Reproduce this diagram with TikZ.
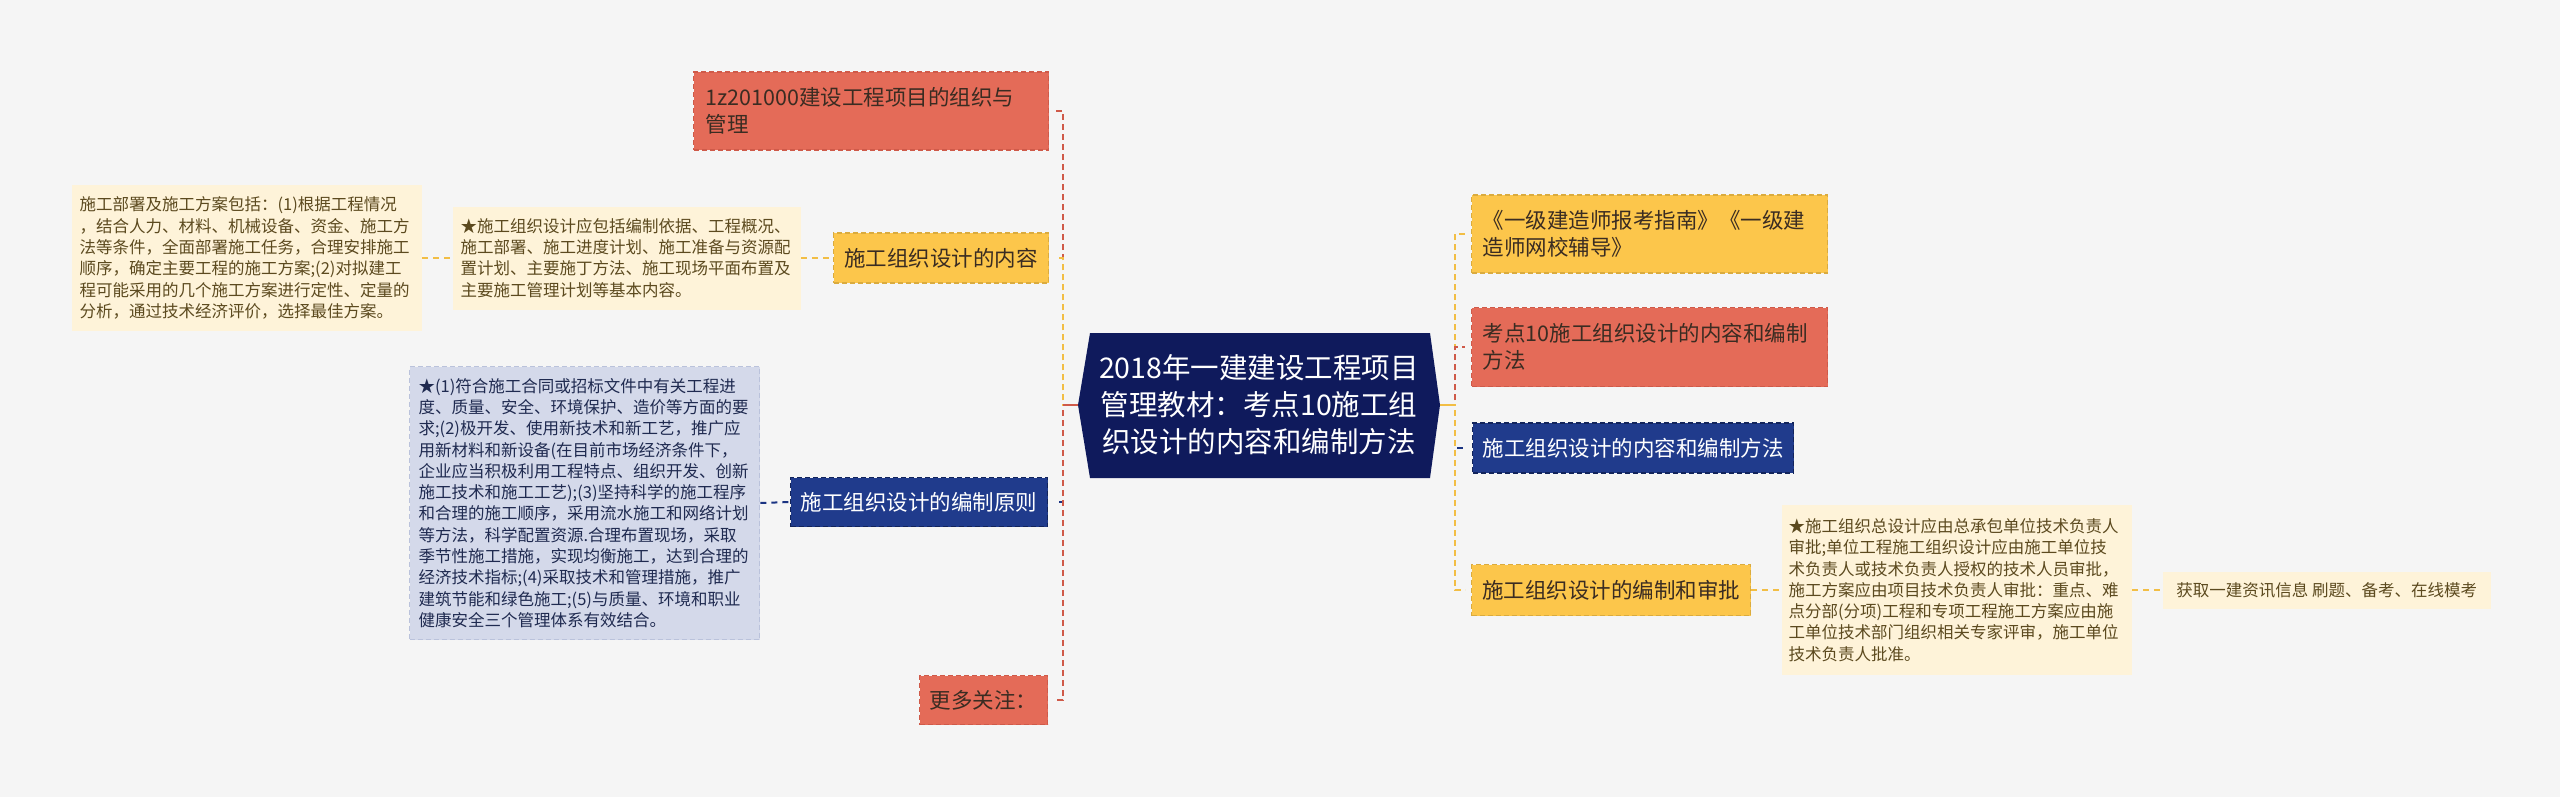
\documentclass[tikz,border=0pt]{standalone}
\usepackage{fontspec}
\setmainfont{Noto Sans CJK SC}
\definecolor{bg}{HTML}{F5F5F5}
\definecolor{redfill}{HTML}{E46B58}
\definecolor{redline}{HTML}{CF5A49}
\definecolor{yelfill}{HTML}{FCC64B}
\definecolor{yelline}{HTML}{F2BE45}
\definecolor{navyfill}{HTML}{203B8C}
\definecolor{navyline}{HTML}{1A3382}
\definecolor{centerfill}{HTML}{0F1A5C}
\definecolor{creamfill}{HTML}{FEF3D9}
\definecolor{lavfill}{HTML}{D4D9EA}
\definecolor{lavline}{HTML}{BAC2DB}
\definecolor{darktext}{HTML}{3A2C22}
\definecolor{creamtext}{HTML}{5C4A1F}
\definecolor{lavtext}{HTML}{1F2A50}
\tikzset{
  box/.style={anchor=west, inner ysep=0pt, line width=1.3pt, dash pattern=on 5pt off 3pt},
  medfont/.style={font=\fontsize{21.5pt}{27.5pt}\selectfont},
  smallfont/.style={font=\fontsize{16.5pt}{21.3pt}\selectfont},
  redbox/.style={box, medfont, fill=redfill, draw=redline, text=darktext},
  yelbox/.style={box, medfont, fill=yelfill, draw=yelline!90!black, text=darktext},
  navybox/.style={box, medfont, fill=navyfill, draw=navyline!70!black, text=white},
  creambox/.style={box, smallfont, fill=creamfill, text=creamtext},
  lavbox/.style={box, smallfont, fill=lavfill, draw=lavline, text=lavtext},
  oneline/.style={align=center, inner xsep=0pt},
  conn/.style={line width=2.2pt, dash pattern=on 6pt off 4pt},
  leaf/.style={line width=2pt, dash pattern=on 6pt off 5pt}
}
\begin{document}
\begin{tikzpicture}[x=1pt,y=-1pt]
\fill[bg] (0,0) rectangle (2560,797);
\useasboundingbox (0,0) rectangle (2560,797);

% central topic
\fill[centerfill] (1078,405) -- (1090,333) -- (1430,333) -- (1440,405) -- (1430,478) -- (1090,478) -- cycle;
\coordinate (cl) at (1078,405);
\coordinate (cr) at (1440,405);
\node[text=white, align=center, font=\fontsize{28.5pt}{37pt}\selectfont] (c) at (1259,405)
  {2018年一建建设工程项目\\管理教材：考点10施工组\\织设计的内容和编制方法};

% left branches
\node[redbox, text width=331pt, inner xsep=12pt, minimum height=78pt, align=left] (r1) at (693,111)
  {1z201000建设工程项目的组织与\\管理};
\node[yelbox, oneline, minimum width=215pt, minimum height=50pt] (y1) at (833,258) {施工组织设计的内容};
\node[creambox, text width=332pt, inner xsep=8pt, minimum height=103pt, align=left] (a2) at (452,258)
  {★施工组织设计应包括编制依据、工程概况、\\施工部署、施工进度计划、施工准备与资源配\\置计划、主要施丁方法、施工现场平面布置及\\主要施工管理计划等基本内容。};
\node[creambox, text width=334pt, inner xsep=8pt, minimum height=146pt, align=left] (a1) at (71,258)
  {施工部署及施工方案包括：(1)根据工程情况\\，结合人力、材料、机械设备、资金、施工方\\法等条件，全面部署施工任务，合理安排施工\\顺序，确定主要工程的施工方案;(2)对拟建工\\程可能采用的几个施工方案进行定性、定量的\\分析，通过技术经济评价，选择最佳方案。};
\node[navybox, oneline, minimum width=257pt, minimum height=49pt] (b1) at (790,502) {施工组织设计的编制原则};
\node[lavbox, text width=332pt, inner xsep=9pt, minimum height=273pt, align=left] (a3) at (409,503)
  {★(1)符合施工合同或招标文件中有关工程进\\度、质量、安全、环境保护、造价等方面的要\\求;(2)极开发、使用新技术和新工艺，推广应\\用新材料和新设备(在目前市场经济条件下，\\企业应当积极利用工程特点、组织开发、创新\\施工技术和施工工艺);(3)坚持科学的施工程序\\和合理的施工顺序，采用流水施工和网络计划\\等方法，科学配置资源.合理布置现场，采取\\季节性施工措施，实现均衡施工，达到合理的\\经济技术指标;(4)采取技术和管理措施，推广\\建筑节能和绿色施工;(5)与质量、环境和职业\\健康安全三个管理体系有效结合。};
\node[redbox, oneline, minimum width=128pt, minimum height=49pt] (r2) at (919,700) {更多关注：};

% right branches
\node[yelbox, text width=334pt, inner xsep=11pt, minimum height=78pt, align=left] (y2) at (1471,234)
  {《一级建造师报考指南》《一级建\\造师网校辅导》};
\node[redbox, text width=334pt, inner xsep=11pt, minimum height=79pt, align=left] (r3) at (1471,347)
  {考点10施工组织设计的内容和编制\\方法};
\node[navybox, oneline, minimum width=321pt, minimum height=50pt] (b2) at (1472,448) {施工组织设计的内容和编制方法};
\node[yelbox, oneline, minimum width=279pt, minimum height=51pt] (y3) at (1471,590) {施工组织设计的编制和审批};
\node[creambox, text width=336pt, inner xsep=7pt, minimum height=170pt, align=left] (a4) at (1781,590)
  {★施工组织总设计应由总承包单位技术负责人\\审批;单位工程施工组织设计应由施工单位技\\术负责人或技术负责人授权的技术人员审批，\\施工方案应由项目技术负责人审批：重点、难\\点分部(分项)工程和专项工程施工方案应由施\\工单位技术部门组织相关专家评审，施工单位\\技术负责人批准。};
\node[creambox, oneline, minimum width=328pt, minimum height=37pt] (a5) at (2162,590) {获取一建资讯信息 刷题、备考、在线模考};

% left connectors
\draw[conn, navyline] (cl) -- ++(-15,0) |- ([xshift=7pt]b1.east);
\draw[conn, redline] (cl) -- ++(-15,0) |- ([xshift=7pt]r2.east);
\draw[conn, redline] (cl) -- ++(-15,0) |- ([xshift=7pt]r1.east);
\draw[conn, yelline] (cl) -- ++(-15,0) |- ([xshift=7pt]y1.east);
\draw[line width=2.2pt, redline] (cl) -- ++(-15,0);

% right connectors
\draw[conn, yelline] (cr) -- ++(15,0) |- ([xshift=-6pt]y2.west);
\draw[conn, redline] (cr) -- ++(15,0) |- ([xshift=-6pt]r3.west);
\draw[conn, navyline] (cr) -- ++(15,0) |- ([xshift=-6pt]b2.west);
\draw[conn, yelline] (cr) -- ++(15,0) |- ([xshift=-6pt]y3.west);
\draw[line width=2.2pt, yelline] (cr) -- ++(15,0);

% leaf connectors
\draw[leaf, yelline] (a2.east) -- (y1.west);
\draw[leaf, yelline] (a1.east) -- (a2.west);
\draw[leaf, navyline] (a3.east) -- (b1.west);
\draw[leaf, yelline] (y3.east) -- (a4.west);
\draw[leaf, yelline] (a4.east) -- (a5.west);
\end{tikzpicture}
\end{document}
